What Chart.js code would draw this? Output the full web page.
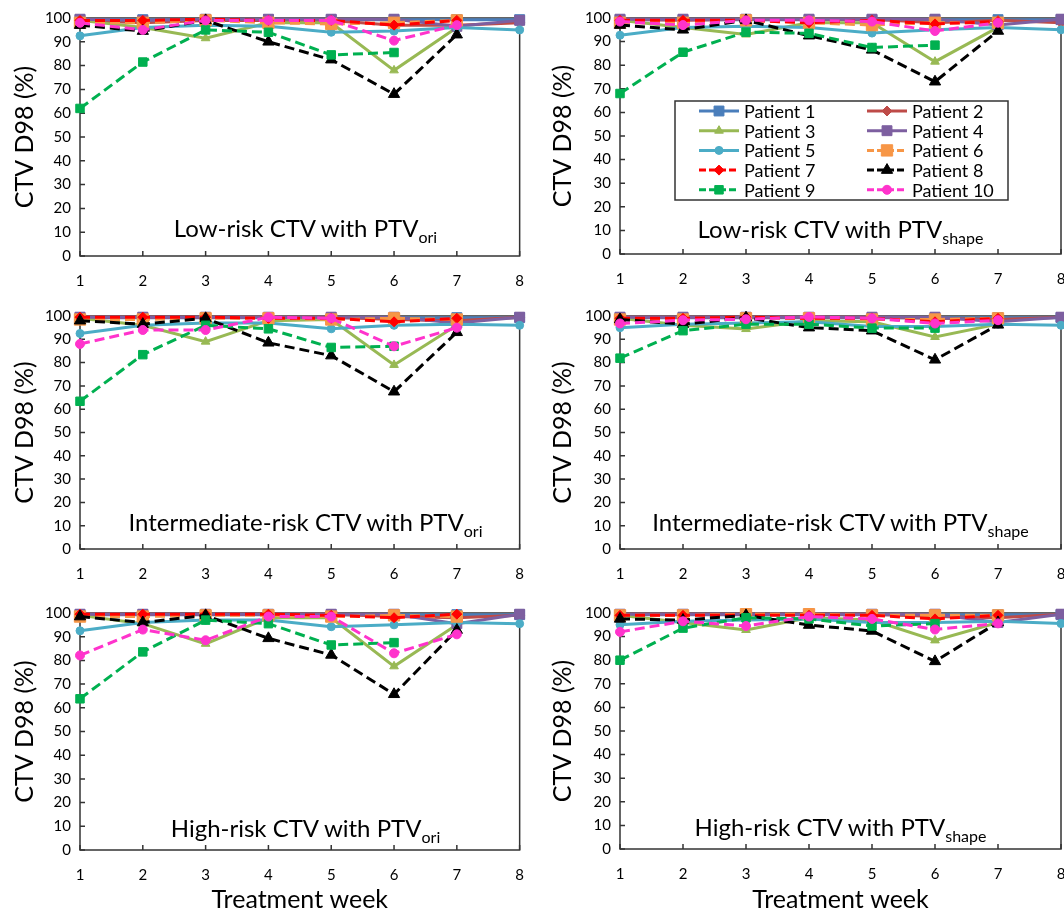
<!DOCTYPE html>
<html>
<head>
<meta charset="utf-8">
<title>CTV D98 per treatment week</title>
<script src="https://cdn.jsdelivr.net/npm/chart.js@4.4.1/dist/chart.umd.min.js"></script>
<style>
  html, body { margin: 0; padding: 0; background: #fff; overflow: hidden; }
  body { width: 1064px; height: 912px; position: relative; font-family: Lato, sans-serif; }
  canvas { position: absolute; }
  .note { position: absolute; text-align: center; font-size: 24px; line-height: 28px; color: #000; white-space: nowrap; }
  .note sub { font-size: 16px; vertical-align: -6px; line-height: 0; }
</style>
</head>
<body>
<canvas id="c1" width="540" height="298" style="left:0px;top:0px"></canvas>
<canvas id="c2" width="560" height="298" style="left:540px;top:0px"></canvas>
<canvas id="c3" width="540" height="297" style="left:0px;top:298px"></canvas>
<canvas id="c4" width="560" height="297" style="left:540px;top:298px"></canvas>
<canvas id="c5" width="540" height="330" style="left:0px;top:595px"></canvas>
<canvas id="c6" width="560" height="330" style="left:540px;top:595px"></canvas>

<div class="note" style="left:84px;top:214px;width:443px">Low-risk CTV with PTV<sub>ori</sub></div>
<div class="note" style="left:620px;top:215px;width:441px">Low-risk CTV with PTV<sub>shape</sub></div>
<div class="note" style="left:84px;top:508px;width:443px">Intermediate-risk CTV with PTV<sub>ori</sub></div>
<div class="note" style="left:620px;top:508px;width:441px">Intermediate-risk CTV with PTV<sub>shape</sub></div>
<div class="note" style="left:84px;top:814px;width:443px">High-risk CTV with PTV<sub>ori</sub></div>
<div class="note" style="left:620px;top:813px;width:441px">High-risk CTV with PTV<sub>shape</sub></div>

<script>
// Weeks and patients
const weeks = ["1", "2", "3", "4", "5", "6", "7", "8"];
const patients = ["Patient 1", "Patient 2", "Patient 3", "Patient 4", "Patient 5",
  "Patient 6", "Patient 7", "Patient 8", "Patient 9", "Patient 10"];

// CTV D98 (%) per panel, one row per patient
const lowOri = [
  [99.3, 99.3, 99.3, 99.3, 99.3, 99.3, 99.3, 99.3],
  [99, 98, 99, 99, 99, 97, 97, 98],
  [99, 96, 91.5, 98, 98, 78, 96],
  [99.5, 99, 99.5, 99.5, 99.5, 99.5, 96.5, 99],
  [92.5, 96, 97, 96.5, 94, 94.5, 96, 95],
  [98, 98, 99, 98, 97.5, 98, 99],
  [99, 99, 99.5, 99, 99, 97, 99],
  [97, 94.5, 99, 90, 82.5, 68, 93],
  [62, 81.5, 95, 94, 84.5, 85.5],
  [98, 95, 99, 99, 99, 90.5, 97],
];
const lowShape = [
  [99.3, 99.3, 99.3, 99.3, 99.3, 99.3, 99.3, 99.3],
  [99.5, 99, 99.5, 99.5, 99.5, 98, 99, 98],
  [99, 96, 93, 98, 98, 81.5, 96],
  [99.5, 99.5, 99.5, 99.5, 99.5, 99.5, 97, 99.5],
  [92.7, 96, 96.5, 96, 93.6, 95, 96, 95],
  [98, 98, 99, 98, 97, 98, 98],
  [99, 99, 99, 98, 99, 97.5, 98.5],
  [97, 95, 99, 92.5, 86.5, 73, 94.5],
  [68, 85.5, 94, 93.5, 87.5, 88.5],
  [98.5, 97, 99, 99, 98.5, 94.5, 98],
];
const intOri = [
  [99.3, 99.3, 99.3, 99.3, 99.3, 99.3, 99.3, 99.3],
  [99.5, 99.5, 99.5, 99.5, 99.5, 98.5, 98, 99.5],
  [99, 96, 89, 98, 98.5, 79, 96],
  [99.5, 99.5, 99.5, 99.5, 99.5, 99.5, 97, 99.5],
  [92.5, 96, 97, 97, 94.5, 96, 96.5, 96],
  [98.5, 98.5, 99, 99, 98.5, 99, 98.5],
  [99.5, 99.5, 99.5, 99, 99, 97.5, 99],
  [98, 96.5, 99, 88.5, 83, 67.5, 93],
  [63.4, 83.4, 96, 94.5, 86.5, 87],
  [88, 94, 94, 99.5, 99, 87, 95],
];
const intShape = [
  [99.3, 99.3, 99.3, 99.3, 99.3, 99.3, 99.3, 99.3],
  [99.5, 99.5, 99.5, 99.5, 99.5, 99, 98.5, 99.5],
  [99, 96, 94.4, 98, 97.5, 91, 96.5],
  [99.5, 99.5, 99.5, 99.5, 99.5, 99.5, 97.5, 99.5],
  [95, 96.5, 97, 97.5, 95.5, 95.5, 96.5, 96],
  [98.5, 98.5, 99, 99, 98.5, 98.5, 99],
  [99, 99, 99.5, 99, 99, 97.5, 99],
  [98.5, 96.5, 99.3, 95, 93.7, 81.2, 96.2],
  [81.9, 93.7, 96.5, 96.5, 94.8, 94.8],
  [96.8, 98.2, 98.6, 99.6, 99, 96.8, 98.2],
];
const highOri = [
  [99.3, 99.3, 99.3, 99.3, 99.3, 99.3, 99.3, 99.3],
  [99.5, 99.5, 99.5, 99.5, 99.5, 98.5, 98, 99],
  [99, 95.5, 87, 98, 98, 77.5, 95],
  [99.5, 99.5, 99.5, 99.5, 99.5, 99.5, 95.5, 99.5],
  [92.5, 96, 97, 97, 94.2, 95, 96, 95.5],
  [98.5, 98.5, 99, 99, 98.5, 99, 98.5],
  [99.5, 99.5, 99.5, 99.5, 99, 98, 99.5],
  [98.5, 96, 99, 89.3, 82.3, 65.7, 92.8],
  [63.8, 83.6, 97, 95.5, 86.5, 87.5],
  [82.1, 93, 88.5, 98.5, 98.5, 83, 91],
];
const highShape = [
  [99.3, 99.3, 99.3, 99.3, 99.3, 99.3, 99.3, 99.3],
  [99.5, 99.5, 99.5, 99.5, 99.5, 98.5, 98, 99.5],
  [99, 96, 92.8, 98, 97, 88.4, 96],
  [99.5, 99.5, 99.5, 99.5, 99.5, 99.5, 96, 99.5],
  [95, 96.5, 97, 97.5, 96, 96, 96.5, 95.5],
  [99, 99, 99.5, 99.5, 99, 99, 99],
  [99, 99, 99, 99, 99, 97.5, 99],
  [97.5, 97, 99, 94.9, 92.4, 79.5, 96],
  [80, 93.6, 98, 97.5, 94.5, 95.5],
  [92, 96.5, 94.5, 98.5, 97.5, 93, 95.6],
];

// Style of each patient (colour, dash, marker)
const colors = ["#4A7EBB", "#BE4B48", "#98B954", "#7D5FA0", "#4BACC6",
  "#F79646", "#FF0000", "#000000", "#00B050", "#FF33CC"];
const dashed = [false, false, false, false, false, true, true, true, true, true];
const markers = ["rect", "rectRot", "triangle", "rect", "circle",
  "rect", "rectRot", "triangle", "rect", "circle"];
const markerSizes = [7, 5, 5, 7, 4, 8, 5, 6.5, 6, 4.5];

const font = "Lato";

function buildDatasets(rows) {
  return rows.map((values, i) => ({
    label: patients[i],
    data: values,
    borderColor: colors[i],
    backgroundColor: colors[i],
    pointBackgroundColor: colors[i],
    pointBorderColor: colors[i],
    pointStyle: markers[i],
    pointRadius: markerSizes[i],
    pointBorderWidth: 1,
    borderWidth: 3,
    borderDash: dashed[i] ? [10, 5] : [],
    tension: 0,
    clip: false,
    order: rows.length - i,
  }));
}

// Plot frame and inside tick marks
const framePlugin = {
  id: "frame",
  beforeDatasetsDraw(chart) {
    const { ctx, chartArea: a, scales } = chart;
    ctx.save();
    ctx.strokeStyle = "#333";
    ctx.lineWidth = 1.5;
    ctx.strokeRect(a.left, a.top, a.right - a.left, a.bottom - a.top);
    ctx.beginPath();
    scales.x.ticks.forEach((t, i) => {
      const px = scales.x.getPixelForTick(i);
      ctx.moveTo(px, a.bottom);
      ctx.lineTo(px, a.bottom - 5);
    });
    scales.y.ticks.forEach((t, i) => {
      const py = scales.y.getPixelForTick(i);
      ctx.moveTo(a.left, py);
      ctx.lineTo(a.left + 5, py);
    });
    ctx.stroke();
    ctx.restore();
  },
};

// Boxed legend in two columns
function makeLegend(box) {
  return {
    id: "boxLegend",
    afterDatasetsDraw(chart) {
      const { ctx } = chart;
      ctx.save();
      ctx.fillStyle = "#fff";
      ctx.fillRect(box.x, box.y, box.w, box.h);
      ctx.strokeStyle = "#333";
      ctx.lineWidth = 1.5;
      ctx.strokeRect(box.x, box.y, box.w, box.h);
      chart.data.datasets.forEach((ds, i) => {
        const lx = box.x + 24 + (i % 2) * 168;
        const ly = box.y + 10 + Math.floor(i / 2) * 19.7;
        ctx.strokeStyle = ds.borderColor;
        ctx.lineWidth = 3;
        ctx.setLineDash(dashed[i] ? [7, 3] : []);
        ctx.beginPath();
        ctx.moveTo(lx, ly);
        ctx.lineTo(lx + 40, ly);
        ctx.stroke();
        ctx.setLineDash([]);
        ctx.fillStyle = ds.pointBackgroundColor;
        ctx.lineWidth = 1;
        Chart.helpers.drawPoint(ctx, { pointStyle: ds.pointStyle, radius: ds.pointRadius, borderWidth: 1, rotation: 0 }, lx + 20, ly);
        ctx.fillStyle = "#000";
        ctx.font = "18px " + font;
        ctx.textBaseline = "middle";
        ctx.fillText(ds.label, lx + 45, ly + 1);
      });
      ctx.restore();
    },
  };
}

// Panels: canvas place and plot area on the page
const panels = [
  { id: "c1", rows: lowOri, left: 0, top: 0, w: 540, h: 298, plot: [80, 17, 523, 256], yPad: 10 },
  { id: "c2", rows: lowShape, left: 540, top: 0, w: 560, h: 298, plot: [620, 15, 1061, 254], yPad: 8,
    legend: { x: 135, y: 101, w: 333, h: 99 } },
  { id: "c3", rows: intOri, left: 0, top: 298, w: 540, h: 297, plot: [80, 313, 523, 549], yPad: 10 },
  { id: "c4", rows: intShape, left: 540, top: 298, w: 560, h: 297, plot: [620, 311, 1061, 549], yPad: 8 },
  { id: "c5", rows: highOri, left: 0, top: 595, w: 540, h: 330, plot: [80, 610, 523, 850], yPad: 10, xTitle: true },
  { id: "c6", rows: highShape, left: 540, top: 595, w: 560, h: 330, plot: [620, 610, 1061, 849], yPad: 8, xTitle: true },
];

panels.forEach((p) => {
  const [pl, pt, pr, pb] = p.plot;
  const yWidth = pl - p.left;
  const xHeight = p.top + p.h - pb;
  const ctx = document.getElementById(p.id).getContext("2d");

  new Chart(ctx, {
    type: "line",
    data: { labels: weeks, datasets: buildDatasets(p.rows) },
    options: {
      responsive: false,
      animation: false,
      layout: { padding: { left: 0, top: pt - p.top, right: p.left + p.w - pr, bottom: 0 } },
      plugins: { legend: { display: false }, tooltip: { enabled: false } },
      scales: {
        x: {
          offset: false,
          grid: { display: false, drawTicks: false },
          border: { display: false },
          ticks: { color: "#000", font: { family: font, size: 15 }, padding: 16, maxRotation: 0, autoSkip: false },
          title: {
            display: !!p.xTitle,
            text: "Treatment week",
            color: "#000",
            font: { family: font, size: 25 },
            padding: { top: 0, bottom: 10 },
          },
          afterFit: (s) => { s.height = xHeight; },
        },
        y: {
          min: 0,
          max: 100,
          grid: { display: false, drawTicks: false },
          border: { display: false },
          ticks: { stepSize: 10, color: "#000", font: { family: font, size: 15 }, padding: 9 },
          title: {
            display: true,
            text: "CTV D98 (%)",
            color: "#000",
            font: { family: font, size: 25 },
            padding: { top: p.yPad, bottom: 0 },
          },
          afterFit: (s) => { s.width = yWidth; },
        },
      },
    },
    plugins: p.legend ? [framePlugin, makeLegend(p.legend)] : [framePlugin],
  });
});
</script>
</body>
</html>
